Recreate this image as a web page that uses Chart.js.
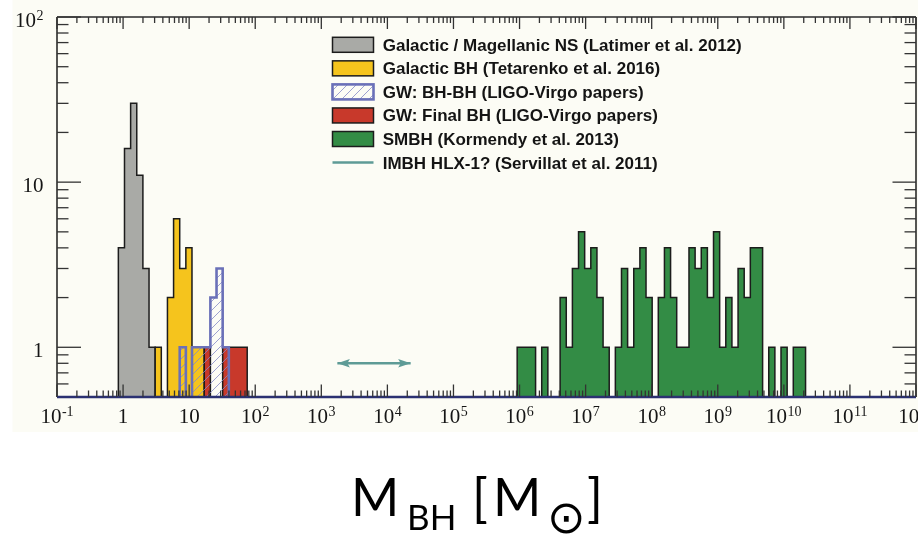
<!DOCTYPE html>
<html>
<head>
<meta charset="utf-8">
<script src="https://cdn.jsdelivr.net/npm/chart.js@4/dist/chart.umd.min.js"></script>
<style>
  html, body { margin: 0; padding: 0; background: #ffffff; }
  canvas { display: block; }
</style>
</head>
<body>
<canvas id="massChart" width="918" height="537"></canvas>
<script>
// Histogram binning: equal bins in log10(M / Msun)
const LOG_MIN = -1, LOG_MAX = 12, N_BINS = 140;

// Counts per bin, starting at the given bin index
const nsStartBin = 10;
const nsCounts = [4, 16, 30, 11, 3, 1];

const galBhStartBin = 16;
const galBhCounts = [1, 0, 2, 6, 3, 4, 1, 1];

const gwBbhStartBin = 20;
const gwBbhCounts = [1, 0, 1, 1, 1, 2, 3, 1];

const gwFinalStartBin = 24;
const gwFinalCounts = [1, 0, 0, 1, 1, 1, 1];

const smbhStartBin = 75;
const smbhCounts = [1, 1, 1, 0, 1, 0, 0, 2, 1, 3, 5, 3, 4, 2, 1, 0,
                    1, 3, 1, 3, 4, 2, 0, 2, 4, 2, 1, 1, 4, 3, 4, 2,
                    5, 1, 2, 1, 3, 2, 4, 4, 0, 1, 0, 1, 0, 1, 1];

// HLX-1 mass range and the height of its arrow
const imbhRange = [1.75e3, 2.25e4];
const imbhLevel = 0.8;

const seriesLabels = [
  'Galactic / Magellanic NS (Latimer et al. 2012)',
  'Galactic BH (Tetarenko et al. 2016)',
  'GW: BH-BH (LIGO-Virgo papers)',
  'GW: Final BH (LIGO-Virgo papers)',
  'SMBH (Kormendy et al. 2013)',
  'IMBH HLX-1? (Servillat et al. 2011)'
];

const xTickValues = [1e-1, 1, 1e1, 1e2, 1e3, 1e4, 1e5, 1e6, 1e7, 1e8, 1e9, 1e10, 1e11, 1e12];
const xTickLabels = ['10^-1', '1', '10', '10^2', '10^3', '10^4', '10^5', '10^6',
                     '10^7', '10^8', '10^9', '10^10', '10^11', '10^12'];
const yTickValues = [1, 10, 100];
const yTickLabels = ['1', '10', '10^2'];

const X_MIN = 0.1, X_MAX = 1e12, Y_MIN = 0.5, Y_MAX = 100;

const COLORS = {
  ns: '#a9aaa6',
  galBh: '#f5c41d',
  gwFinal: '#c8392b',
  smbh: '#338c45',
  gwBbh: '#6a70b8',
  hatchLine: '#8489c6',
  imbh: '#5e9b96',
  edge: '#1c1c1c'
};

function binEdge(k) {
  return Math.pow(10, LOG_MIN + k * (LOG_MAX - LOG_MIN) / N_BINS);
}

// Step outline of a histogram, closed down to the bottom of the axis.
// Each point carries the count of the bin that starts at its x.
function histPoints(startBin, counts) {
  const pts = [{ x: binEdge(startBin), y: Y_MIN }];
  counts.forEach((c, i) => pts.push({ x: binEdge(startBin + i), y: c > 0 ? c : Y_MIN }));
  pts.push({ x: binEdge(startBin + counts.length), y: Y_MIN });
  return pts;
}

// Diagonal hatch used for the BH-BH component masses
function makeHatch(color) {
  const s = 9;
  const c = document.createElement('canvas');
  c.width = s; c.height = s;
  const g = c.getContext('2d');
  g.strokeStyle = color;
  g.lineWidth = 0.8;
  g.beginPath();
  g.moveTo(0, s); g.lineTo(s, 0);
  g.moveTo(-1, 1); g.lineTo(1, -1);
  g.moveTo(s - 1, s + 1); g.lineTo(s + 1, s - 1);
  g.stroke();
  return g.createPattern(c, 'repeat');
}

const ctx0 = document.getElementById('massChart').getContext('2d');
const hatch = makeHatch(COLORS.hatchLine);

function histDataset(label, startBin, counts, fillColor, edgeColor, width, order) {
  return {
    label,
    data: histPoints(startBin, counts),
    stepped: 'before',
    fill: 'start',
    backgroundColor: fillColor,
    borderColor: edgeColor,
    borderWidth: width,
    pointRadius: 0,
    tension: 0,
    order
  };
}

const datasets = [
  histDataset(seriesLabels[0], nsStartBin, nsCounts, COLORS.ns, COLORS.edge, 1.5, 6),
  histDataset(seriesLabels[1], galBhStartBin, galBhCounts, COLORS.galBh, COLORS.edge, 1.5, 5),
  histDataset(seriesLabels[2], gwBbhStartBin, gwBbhCounts, hatch, COLORS.gwBbh, 2.6, 0),
  histDataset(seriesLabels[3], gwFinalStartBin, gwFinalCounts, COLORS.gwFinal, COLORS.edge, 1.5, 4),
  histDataset(seriesLabels[4], smbhStartBin, smbhCounts, COLORS.smbh, COLORS.edge, 1.5, 3),
  {
    label: seriesLabels[5],
    data: [{ x: imbhRange[0], y: imbhLevel }, { x: imbhRange[1], y: imbhLevel }],
    borderColor: COLORS.imbh,
    borderWidth: 2.4,
    pointRadius: 0,
    fill: false,
    order: 1
  }
];

const SERIF = '"Liberation Serif", "Times New Roman", serif';

// "10^n" style labels with a raised exponent
function drawPowerLabel(ctx, text, x, y, align) {
  const [base, exp] = text.split('^');
  const baseFont = '21px ' + SERIF;
  const expFont = '14px ' + SERIF;
  ctx.font = baseFont;
  const wb = ctx.measureText(base).width;
  let we = 0;
  if (exp !== undefined) { ctx.font = expFont; we = ctx.measureText(exp).width + 0.5; }
  const total = wb + we;
  let x0 = align === 'center' ? x - total / 2 : align === 'right' ? x - total : x;
  ctx.textAlign = 'left';
  ctx.textBaseline = 'alphabetic';
  ctx.font = baseFont;
  ctx.fillText(base, x0, y);
  if (exp !== undefined) {
    ctx.font = expFont;
    ctx.fillText(exp, x0 + wb + 0.5, y - 7.5);
  }
}

function line(ctx, x1, y1, x2, y2) {
  ctx.beginPath(); ctx.moveTo(x1, y1); ctx.lineTo(x2, y2); ctx.stroke();
}

const decorations = {
  id: 'decorations',
  beforeDraw(chart) {
    const ctx = chart.ctx;
    ctx.save();
    ctx.fillStyle = '#ffffff';
    ctx.fillRect(0, 0, chart.width, chart.height);
    ctx.fillStyle = '#fcfcf5';
    ctx.fillRect(12.5, 0, chart.width - 12.5, 432);
    ctx.restore();
  },
  afterDatasetsDraw(chart) {
    const ctx = chart.ctx;
    const a = chart.chartArea;
    const xs = chart.scales.x, ys = chart.scales.y;
    ctx.save();

    // arrowheads on the HLX-1 range
    const imbhMeta = chart.getDatasetMeta(5);
    const p0 = imbhMeta.data[0], p1 = imbhMeta.data[1];
    ctx.fillStyle = COLORS.imbh;
    [[p0, 1], [p1, -1]].forEach(([p, dir]) => {
      ctx.beginPath();
      ctx.moveTo(p.x, p.y);
      ctx.lineTo(p.x + dir * 12.5, p.y - 4.3);
      ctx.lineTo(p.x + dir * 10, p.y);
      ctx.lineTo(p.x + dir * 12.5, p.y + 4.3);
      ctx.closePath();
      ctx.fill();
    });

    // frame
    ctx.strokeStyle = '#2a2a2a';
    ctx.lineWidth = 1.6;
    line(ctx, a.left, a.bottom, a.left, a.top);
    line(ctx, a.left, a.top, a.right, a.top);
    line(ctx, a.right, a.top, a.right, a.bottom);
    ctx.strokeStyle = '#2b3172';
    ctx.lineWidth = 2.6;
    line(ctx, a.left, a.bottom, a.right, a.bottom);

    // x ticks, top and bottom, pointing inward
    ctx.strokeStyle = '#333333';
    ctx.lineWidth = 1.3;
    xTickValues.forEach((v, i) => {
      const px = xs.getPixelForValue(v);
      line(ctx, px, a.top, px, a.top + 12);
      line(ctx, px, a.bottom, px, a.bottom - 12.5);
      if (i < xTickValues.length - 1) {
        for (let m = 2; m <= 9; m++) {
          const q = xs.getPixelForValue(v * m);
          line(ctx, q, a.top, q, a.top + 6);
          line(ctx, q, a.bottom, q, a.bottom - 6.5);
        }
      }
    });

    // y ticks, left and right
    const yMinor = [0.6, 0.7, 0.8, 0.9];
    yTickValues.forEach((v, i) => {
      if (i < yTickValues.length - 1) for (let m = 2; m <= 9; m++) yMinor.push(v * m);
    });
    yTickValues.forEach(v => {
      const py = ys.getPixelForValue(v);
      line(ctx, a.left, py, a.left + 24, py);
      line(ctx, a.right, py, a.right - 23.5, py);
    });
    yMinor.forEach(v => {
      const py = ys.getPixelForValue(v);
      line(ctx, a.left, py, a.left + 11.5, py);
      line(ctx, a.right, py, a.right - 11.5, py);
    });

    // tick labels
    ctx.fillStyle = '#151515';
    xTickValues.forEach((v, i) => {
      drawPowerLabel(ctx, xTickLabels[i], xs.getPixelForValue(v), 423.3, 'center');
    });
    yTickValues.forEach((v, i) => {
      drawPowerLabel(ctx, yTickLabels[i], 43.5, ys.getPixelForValue(v) + 10.2, 'right');
    });

    // legend
    const rowY0 = 44.8, rowStep = 23.55, boxX = 332.5, boxW = 41, boxH = 15, textX = 382.7;
    const fills = [COLORS.ns, COLORS.galBh, hatch, COLORS.gwFinal, COLORS.smbh];
    ctx.font = 'bold 17px "Liberation Sans", Arial, sans-serif';
    ctx.textAlign = 'left';
    ctx.textBaseline = 'alphabetic';
    seriesLabels.forEach((lab, i) => {
      const cy = rowY0 + i * rowStep;
      if (i < 5) {
        ctx.fillStyle = fills[i];
        ctx.fillRect(boxX, cy - boxH / 2, boxW, boxH);
        if (i === 2) { ctx.strokeStyle = COLORS.gwBbh; ctx.lineWidth = 2.6; }
        else { ctx.strokeStyle = COLORS.edge; ctx.lineWidth = 1.5; }
        ctx.strokeRect(boxX, cy - boxH / 2, boxW, boxH);
      } else {
        ctx.strokeStyle = COLORS.imbh;
        ctx.lineWidth = 2.4;
        line(ctx, boxX, cy, boxX + boxW, cy);
      }
      ctx.fillStyle = '#141414';
      ctx.fillText(lab, textX, cy + 6);
    });

    // axis title: M_BH [M_sun]
    const big = '52px Lato, "Open Sans", sans-serif';
    const small = '35px Lato, "Open Sans", sans-serif';
    ctx.fillStyle = '#000000';
    ctx.font = big;
    ctx.fillText('M', 351, 515.7);
    ctx.font = small;
    ctx.fillText('BH', 407, 530);
    ctx.font = big;
    ctx.fillText('[', 472, 515.7);
    ctx.fillText('M', 493, 515.7);
    ctx.font = '46px "DejaVu Sans", sans-serif';
    ctx.fillText('\u2299', 547, 533);
    ctx.font = big;
    ctx.fillText(']', 587, 515.7);

    ctx.restore();
  }
};

new Chart(ctx0, {
  type: 'line',
  data: { datasets },
  options: {
    responsive: false,
    animation: false,
    devicePixelRatio: 1,
    layout: { padding: { left: 57, right: 2, top: 17, bottom: 140 } },
    plugins: { legend: { display: false }, tooltip: { enabled: false } },
    scales: {
      x: { type: 'logarithmic', min: X_MIN, max: X_MAX, display: false },
      y: { type: 'logarithmic', min: Y_MIN, max: Y_MAX, display: false }
    }
  },
  plugins: [decorations]
});
</script>
</body>
</html>
